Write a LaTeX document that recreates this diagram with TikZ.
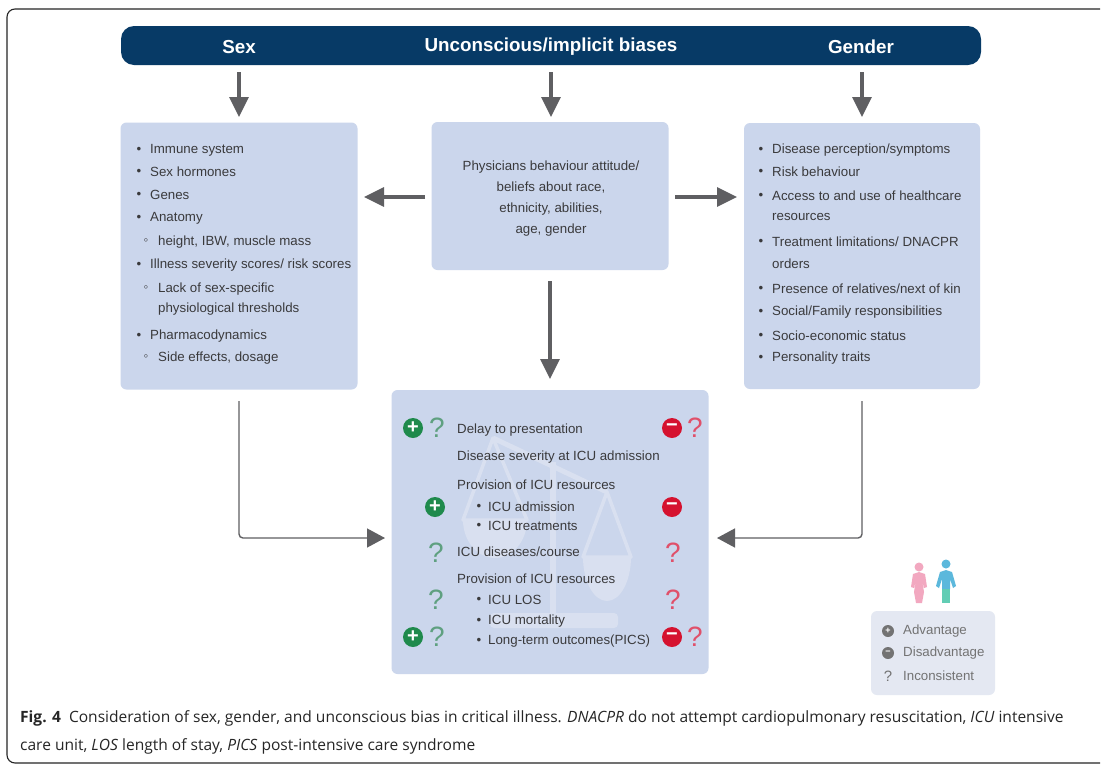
\documentclass[tikz,border=0pt]{standalone}
\usepackage{fontspec}
\setmainfont{Liberation Sans}
\newfontfamily\capfont{Open Sans}
\usetikzlibrary{arrows.meta}
\definecolor{boxblue}{HTML}{CBD6EC}
\definecolor{navy}{HTML}{073A66}
\definecolor{arrowgray}{HTML}{5F5F62}
\definecolor{txt}{HTML}{3A3A3C}
\definecolor{plusgreen}{HTML}{1F8A4C}
\definecolor{minusred}{HTML}{D5122F}
\definecolor{qgreen}{HTML}{5FA080}
\definecolor{qred}{HTML}{E0506A}
\definecolor{legbox}{HTML}{E4E8F2}
\definecolor{scalecol}{HTML}{D9E0F0}
\definecolor{ppink}{HTML}{F2A8C0}
\definecolor{pblue}{HTML}{5CB8DC}
\definecolor{pteal}{HTML}{62CDB4}
\tikzset{
 x=1pt,y=-1pt,
 bigbox/.style={fill=boxblue,rounded corners=6pt},
 flow/.style={draw=arrowgray,line width=3.2pt,-{Triangle[length=20pt,width=19pt]}},
 thin flow/.style={draw=arrowgray,line width=1.4pt,-{Triangle[length=18pt,width=19pt]}},
 head/.style={font=\fontsize{18.8}{20}\selectfont\bfseries,text=white,anchor=center},
 item/.style={font=\fontsize{13.3}{15}\selectfont,text=txt,anchor=west,inner sep=0pt},
 bul/.style={font=\fontsize{13.3}{15}\selectfont,text=txt,anchor=center,inner sep=0pt},
 mid/.style={font=\fontsize{13.3}{21}\selectfont,text=txt,align=center,inner sep=0pt},
 plusic/.style={circle,fill=plusgreen,minimum size=20pt,inner sep=0pt,font=\fontsize{20}{20}\selectfont\bfseries,text=white},
 minusic/.style={circle,fill=minusred,minimum size=20pt,inner sep=0pt,font=\fontsize{20}{20}\selectfont\bfseries,text=white},
 qg/.style={font=\fontsize{28}{28}\selectfont,text=qgreen,inner sep=0pt},
 qr/.style={font=\fontsize{28}{28}\selectfont,text=qred,inner sep=0pt},
 captext/.style={font=\capfont\fontsize{15.55}{19}\selectfont,text=black!85,anchor=west,inner sep=0pt},
 legic/.style={circle,fill=black!55,minimum size=12pt,inner sep=0pt,font=\fontsize{9}{9}\selectfont\bfseries,text=white},
}
\begin{document}
\begin{tikzpicture}
\useasboundingbox (0,0) rectangle (1104,764);
\fill[white] (0,0) rectangle (1104,764);
% frame
\draw[black!85,line width=1.1pt,rounded corners=8pt] (1100,9) -- (7,9) -- (7,763) -- (1100,763);
% banner
\node[fill=navy,rounded corners=13pt,minimum width=860pt,minimum height=39pt,inner sep=0pt] (banner) at (551,45.5) {};
\node[head] (hsex) at (239,47) {Sex};
\node[head] (hub) at (551,47) {Unconscious/implicit biases};
\node[head] (hgen) at (861,47) {Gender};
% boxes
\node[bigbox,minimum width=237pt,minimum height=267pt,inner sep=0pt] (sex) at (239,256) {};
\node[bigbox,minimum width=237pt,minimum height=148pt,inner sep=0pt] (phys) at (550,196) {};
\node[bigbox,minimum width=236pt,minimum height=266pt,inner sep=0pt] (gen) at (862,256) {};
\node[bigbox,minimum width=317pt,minimum height=284pt,inner sep=0pt] (out) at (550,532) {};
% scale watermark
\draw[scalecol,line width=5pt,line join=round] (493,438) -- (607,492);
\draw[scalecol,line width=6pt] (553,462) -- (553,615);
\draw[scalecol,line width=3.5pt,line join=round] (493,438) -- (463,520) -- (527,520) -- cycle;
\fill[scalecol] (463,520) arc (180:0:32 and 38) -- cycle;
\draw[scalecol,line width=3.5pt,line join=round] (607,492) -- (583,557) -- (631,557) -- cycle;
\fill[scalecol] (583,557) arc (180:0:24 and 44) -- cycle;
\fill[scalecol,rounded corners=4pt] (490,613) rectangle (618,628);
% sex list
\foreach \y/\t [count=\i] in {150/{Immune system},172/{Sex hormones},195/{Genes},218/{Anatomy}}{
 \node[bul] (sb\i) at (139,\y) {•};
 \node[item] (st\i) at (150,\y) {\t};
}
\node[bul] (sb5) at (146,242) {◦};
\node[item] (st5) at (158,242) {height, IBW, muscle mass};
\node[bul] (sb6) at (139,265) {•};
\node[item] (st6) at (150,265) {Illness severity scores/ risk scores};
\node[bul] (sb7) at (146,289) {◦};
\node[item] (st7) at (158,289) {Lack of sex-specific};
\node[item] (st8) at (158,309) {physiological thresholds};
\node[bul] (sb9) at (139,336) {•};
\node[item] (st9) at (150,336) {Pharmacodynamics};
\node[bul] (sb10) at (146,358) {◦};
\node[item] (st10) at (158,358) {Side effects, dosage};
% physicians
\node[mid] (pt) at (551,199) {Physicians behaviour attitude/\\beliefs about race,\\ethnicity, abilities,\\age, gender};
% gender list
\foreach \y/\t [count=\i] in {150/{Disease perception/symptoms},172/{Risk behaviour},196/{Access to and use of healthcare},217/{resources},242/{Treatment limitations/ DNACPR},264/{orders},289/{Presence of relatives/next of kin},312/{Social/Family responsibilities},336/{Socio-economic status},358/{Personality traits}}{
 \node[item] (gt\i) at (772,\y) {\t};
}
\foreach \y [count=\i] in {150,172,196,242,289,312,336,358}{
 \node[bul] (gb\i) at (761,\y) {•};
}
% outcome text
\node[item] (o1) at (457,430) {Delay to presentation};
\node[item] (o2) at (457,457) {Disease severity at ICU admission};
\node[item] (o3) at (457,485) {Provision of ICU resources};
\node[bul] (ob4) at (479,507) {•}; \node[item] (o4) at (488,507) {ICU admission};
\node[bul] (ob5) at (479,526) {•}; \node[item] (o5) at (488,526) {ICU treatments};
\node[item] (o6) at (457,552) {ICU diseases/course};
\node[item] (o7) at (457,579) {Provision of ICU resources};
\node[bul] (ob8) at (479,600) {•}; \node[item] (o8) at (488,600) {ICU LOS};
\node[bul] (ob9) at (479,621) {•}; \node[item] (o9) at (488,621) {ICU mortality};
\node[bul] (ob10) at (479,641) {•}; \node[item] (o10) at (488,641) {Long-term outcomes(PICS)};
% icons
\node[plusic] (p1) at (413,428) {+}; \node[qg] (qg1) at (437,428) {?};
\node[minusic] (m1) at (672,428) {\char"2212}; \node[qr] (qr1) at (695,428) {?};
\node[plusic] (p2) at (435,507) {+};
\node[minusic] (m2) at (672,507) {\char"2212};
\node[qg] (qg2) at (436,553) {?}; \node[qr] (qr2) at (673,553) {?};
\node[qg] (qg3) at (436,600) {?}; \node[qr] (qr3) at (673,600) {?};
\node[plusic] (p3) at (413,637) {+}; \node[qg] (qg4) at (437,637) {?};
\node[minusic] (m3) at (672,637) {\char"2212}; \node[qr] (qr4) at (695,637) {?};
% arrows
\coordinate (a1s) at (239,72); \coordinate (a1e) at (239,117);
\draw[flow] (a1s) -- (a1e);
\coordinate (a2s) at (551,72); \coordinate (a2e) at (551,117);
\draw[flow] (a2s) -- (a2e);
\coordinate (a3s) at (862,72); \coordinate (a3e) at (862,117);
\draw[flow] (a3s) -- (a3e);
\coordinate (a4s) at (425,197); \coordinate (a4e) at (364,197);
\draw[flow] (a4s) -- (a4e);
\coordinate (a5s) at (675,197); \coordinate (a5e) at (737,197);
\draw[flow] (a5s) -- (a5e);
\coordinate (a6s) at (550,281); \coordinate (a6e) at (550,379);
\draw[flow] (a6s) -- (a6e);
\coordinate (a7s) at (239,401); \coordinate (a7e) at (385,538);
\draw[thin flow,rounded corners=4pt] (a7s) -- (239,538) -- (a7e);
\coordinate (a8s) at (862,401); \coordinate (a8e) at (717,538);
\draw[thin flow,rounded corners=4pt] (a8s) -- (862,538) -- (a8e);
% people
\fill[ppink] (919,567) circle (4.5pt);
\fill[ppink] (919,572) -- (913,574) -- (911,587) -- (914,588) -- (916,580) -- (914,592) -- (916,603) -- (922,603) -- (924,592) -- (922,580) -- (924,588) -- (927,587) -- (925,574) -- cycle;
\fill[pblue] (946,564) circle (4.5pt);
\fill[pblue] (946,570) -- (940,572) -- (936,586) -- (939,588) -- (942,579) -- (942,589) -- (950,589) -- (950,579) -- (953,588) -- (956,586) -- (952,572) -- cycle;
\fill[pteal] (942,589) rectangle (950,603);
% legend
\node[fill=legbox,rounded corners=6pt,minimum width=124pt,minimum height=84pt,inner sep=0pt] (leg) at (933,653) {};
\node[legic] (l1) at (888,631) {+};
\node[legic] (l2) at (888,653) {\char"2212};
\node[font=\fontsize{15}{15}\selectfont,text=black!55,inner sep=0pt] (l3) at (888,676) {?};
\node[item,text=black!55] (lt1) at (903,631) {Advantage};
\node[item,text=black!55] (lt2) at (903,653) {Disadvantage};
\node[item,text=black!55] (lt3) at (903,676) {Inconsistent};
% caption
\node[captext] (c1) at (20,718) {\textbf{Fig. 4}\hspace{4pt} Consideration of sex, gender, and unconscious bias in critical illness. \textit{DNACPR} do not attempt cardiopulmonary resuscitation, \textit{ICU} intensive};
\node[captext] (c2) at (20,746) {care unit, \textit{LOS} length of stay, \textit{PICS} post-intensive care syndrome};
\end{tikzpicture}
\end{document}
